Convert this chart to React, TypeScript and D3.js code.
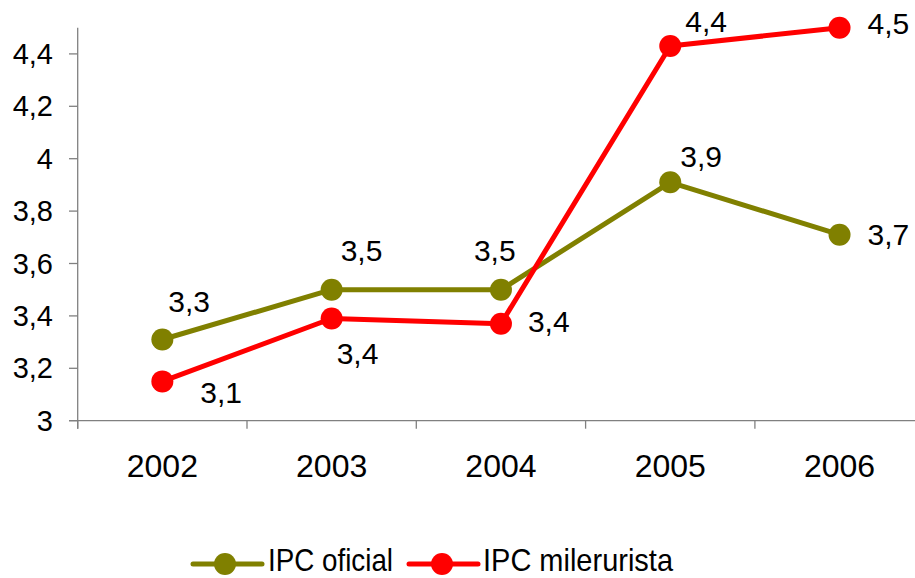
import React from 'react'
import * as d3 from 'd3'

const years = ['2002', '2003', '2004', '2005', '2006']
const ipcOficial = [3.31, 3.5, 3.5, 3.91, 3.71]
const ipcMilerurista = [3.15, 3.39, 3.37, 4.43, 4.5]
const yTicks = [3, 3.2, 3.4, 3.6, 3.8, 4, 4.2, 4.4]

// label placement relative to each point (dx, dy of the baseline start)
const oficialLabelOffsets = [[6, -27], [9, -29], [-27, -29], [10, -15], [28, 10]]
const mileruristaLabelOffsets = [[38, 22], [5, 45], [27, 8], [15, -14], [28, 6]]

const W = 915
const H = 578
const FONT = 'Arial, "Liberation Sans", Helvetica, sans-serif'

const fmt = (v: number) => v.toFixed(1).replace('.', ',')

export default function App() {
  const x = d3.scaleBand().domain(years).range([77.7, 924.2])
  const cx = (d: string) => (x(d) || 0) + x.bandwidth() / 2
  const y = d3.scaleLinear().domain([3, 4.5]).range([420.7, 27.7])

  const line = d3.line<number>()
    .x((_, i) => cx(years[i]))
    .y(d => y(d))

  const series = [
    { name: 'IPC oficial', values: ipcOficial, color: '#808000', offsets: oficialLabelOffsets },
    { name: 'IPC milerurista', values: ipcMilerurista, color: '#FF0000', offsets: mileruristaLabelOffsets },
  ]

  const xTickPos = [...years.map(d => x(d) || 0), x.range()[1]]

  return (
    <svg width={W} height={H} style={{ position: 'absolute', left: 0, top: 0, background: '#fff' }}
      fontFamily={FONT}>
      {/* y axis */}
      <line x1={77.7} x2={77.7} y1={y(4.5)} y2={y(3) + 8} stroke="#808080" strokeWidth={1.3} />
      {yTicks.map(t => (
        <g key={t}>
          <line x1={69} x2={77.7} y1={y(t)} y2={y(t)} stroke="#808080" strokeWidth={1.3} />
          <text x={53} y={y(t) + 10} textAnchor="end" fontSize={29} fill="#000">{fmt(t).replace(',0', '')}</text>
        </g>
      ))}
      {/* x axis */}
      <line x1={69} x2={W} y1={y(3)} y2={y(3)} stroke="#808080" strokeWidth={1.3} />
      {xTickPos.map((p, i) => (
        <line key={i} x1={p} x2={p} y1={y(3)} y2={y(3) + 8} stroke="#808080" strokeWidth={1.3} />
      ))}
      {years.map(d => (
        <text key={d} x={cx(d)} y={476.7} textAnchor="middle" fontSize={32} fill="#000">{d}</text>
      ))}

      {series.map(s => (
        <g key={s.name}>
          <path d={line(s.values) || ''} fill="none" stroke={s.color} strokeWidth={5} strokeLinejoin="round" />
          {s.values.map((v, i) => (
            <circle key={i} cx={cx(years[i])} cy={y(v)} r={11} fill={s.color} />
          ))}
        </g>
      ))}
      {series.map(s => s.values.map((v, i) => (
        <text key={s.name + i} x={cx(years[i]) + s.offsets[i][0]} y={y(v) + s.offsets[i][1]}
          fontSize={30} fill="#000">{fmt(v)}</text>
      )))}

      {/* legend */}
      <g>
        <line x1={193} x2={262} y1={564} y2={564} stroke="#808000" strokeWidth={5} strokeLinecap="round" />
        <circle cx={225} cy={564} r={11} fill="#808000" />
        <text x={268} y={571} fontSize={32} textLength={125} lengthAdjust="spacingAndGlyphs" fill="#000">IPC oficial</text>
        <line x1={409} x2={478} y1={564} y2={564} stroke="#FF0000" strokeWidth={5} strokeLinecap="round" />
        <circle cx={442} cy={564} r={11} fill="#FF0000" />
        <text x={483} y={571} fontSize={32} textLength={190} lengthAdjust="spacingAndGlyphs" fill="#000">IPC milerurista</text>
      </g>
    </svg>
  )
}
